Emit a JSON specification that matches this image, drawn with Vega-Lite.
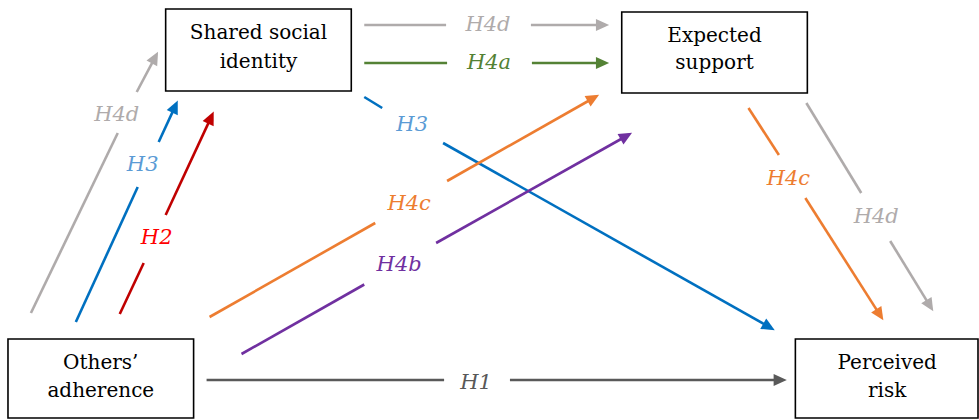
{
  "$schema": "https://vega.github.io/schema/vega-lite/v6.json",
  "autosize": {"type": "fit", "contains": "padding"},
  "width": 979,
  "height": 420,
  "padding": 0,
  "background": "white",
  "config": {"view": {"stroke": null}},
  "datasets": {
    "boxes": [
      {"name": "Shared social identity", "x": 166, "x2": 352, "y": 9, "y2": 91},
      {"name": "Expected support", "x": 623, "x2": 809, "y": 12, "y2": 93},
      {"name": "Others’ adherence", "x": 8, "x2": 194, "y": 339, "y2": 418},
      {"name": "Perceived risk", "x": 797, "x2": 980, "y": 339, "y2": 418}
    ],
    "boxText": [
      {"text": "Shared social", "x": 259, "y": 33},
      {"text": "identity", "x": 259, "y": 62},
      {"text": "Expected", "x": 716, "y": 36},
      {"text": "support", "x": 716, "y": 63},
      {"text": "Others’", "x": 101, "y": 363},
      {"text": "adherence", "x": 101, "y": 391},
      {"text": "Perceived", "x": 889, "y": 363},
      {"text": "risk", "x": 889, "y": 391}
    ],
    "segments": [
      {"path": "H4d top", "color": "#AFABAB", "x": 365, "y": 25, "x2": 447, "y2": 25, "head": false},
      {"path": "H4d top", "color": "#AFABAB", "x": 532, "y": 25, "x2": 606, "y2": 25, "head": true},
      {"path": "H4a", "color": "#548235", "x": 365, "y": 63, "x2": 448, "y2": 63, "head": false},
      {"path": "H4a", "color": "#548235", "x": 533, "y": 63, "x2": 606, "y2": 63, "head": true},
      {"path": "H4d left", "color": "#AFABAB", "x": 31, "y": 313, "x2": 118, "y2": 133, "head": false},
      {"path": "H4d left", "color": "#AFABAB", "x": 137, "y": 92, "x2": 156.3, "y2": 55.6, "head": true},
      {"path": "H3 left", "color": "#0070C0", "x": 76, "y": 322, "x2": 138, "y2": 187, "head": false},
      {"path": "H3 left", "color": "#0070C0", "x": 159, "y": 142, "x2": 176.3, "y2": 104.6, "head": true},
      {"path": "H2", "color": "#C00000", "x": 120, "y": 314, "x2": 144, "y2": 263, "head": false},
      {"path": "H2", "color": "#C00000", "x": 166, "y": 215, "x2": 212.3, "y2": 115.6, "head": true},
      {"path": "H3 diag", "color": "#0070C0", "x": 365, "y": 97, "x2": 383, "y2": 108, "head": false},
      {"path": "H3 diag", "color": "#0070C0", "x": 444, "y": 143, "x2": 772.5, "y2": 328, "head": true},
      {"path": "H4c left", "color": "#ED7D31", "x": 210, "y": 317, "x2": 376, "y2": 223, "head": false},
      {"path": "H4c left", "color": "#ED7D31", "x": 448, "y": 181, "x2": 596.5, "y2": 97, "head": true},
      {"path": "H4b", "color": "#7030A0", "x": 242, "y": 354, "x2": 365, "y2": 284.5, "head": false},
      {"path": "H4b", "color": "#7030A0", "x": 437, "y": 243, "x2": 629.5, "y2": 135, "head": true},
      {"path": "H1", "color": "#595959", "x": 207, "y": 380, "x2": 445, "y2": 380, "head": false},
      {"path": "H1", "color": "#595959", "x": 511, "y": 380, "x2": 784, "y2": 380, "head": true},
      {"path": "H4c right", "color": "#ED7D31", "x": 750, "y": 108, "x2": 780.5, "y2": 155, "head": false},
      {"path": "H4c right", "color": "#ED7D31", "x": 807, "y": 198, "x2": 882.8, "y2": 316.6, "head": true},
      {"path": "H4d right", "color": "#AFABAB", "x": 808, "y": 103, "x2": 863, "y2": 193, "head": false},
      {"path": "H4d right", "color": "#AFABAB", "x": 892, "y": 241, "x2": 932.9, "y2": 307.6, "head": true}
    ],
    "labels": [
      {"text": "H4d", "color": "#AFABAB", "x": 489, "y": 25},
      {"text": "H4a", "color": "#548235", "x": 490, "y": 63},
      {"text": "H4d", "color": "#AFABAB", "x": 117, "y": 115},
      {"text": "H3", "color": "#5B9BD5", "x": 143, "y": 165},
      {"text": "H2", "color": "#FF0000", "x": 157, "y": 238},
      {"text": "H3", "color": "#5B9BD5", "x": 413, "y": 125},
      {"text": "H4c", "color": "#ED7D31", "x": 410, "y": 204},
      {"text": "H4b", "color": "#7030A0", "x": 400, "y": 265},
      {"text": "H1", "color": "#595959", "x": 477, "y": 383},
      {"text": "H4c", "color": "#ED7D31", "x": 790, "y": 179},
      {"text": "H4d", "color": "#AFABAB", "x": 878, "y": 217}
    ]
  },
  "layer": [
    {
      "data": {"name": "boxes"},
      "mark": {"type": "rect", "fill": "white", "stroke": "black", "strokeWidth": 1.6},
      "encoding": {
        "x": {"field": "x", "type": "quantitative", "scale": {"domain": [0, 979], "nice": false, "zero": false}, "axis": null},
        "x2": {"field": "x2"},
        "y": {"field": "y", "type": "quantitative", "scale": {"domain": [0, 420], "nice": false, "zero": false, "reverse": true}, "axis": null},
        "y2": {"field": "y2"}
      }
    },
    {
      "data": {"name": "segments"},
      "mark": {"type": "rule", "strokeWidth": 2.6, "strokeCap": "butt"},
      "encoding": {
        "x": {"field": "x", "type": "quantitative"},
        "x2": {"field": "x2"},
        "y": {"field": "y", "type": "quantitative"},
        "y2": {"field": "y2"},
        "color": {"field": "color", "type": "nominal", "scale": null}
      }
    },
    {
      "data": {"name": "segments"},
      "transform": [
        {"filter": "datum.head"},
        {"calculate": "atan2(datum.x2 - datum.x, -(datum.y2 - datum.y)) * 180 / PI", "as": "angle"}
      ],
      "mark": {"type": "point", "filled": true, "opacity": 1, "size": 484, "strokeWidth": 0, "shape": "M0,-0.4L0.55,0.8L-0.55,0.8Z"},
      "encoding": {
        "x": {"field": "x2", "type": "quantitative"},
        "y": {"field": "y2", "type": "quantitative"},
        "angle": {"field": "angle", "type": "quantitative", "scale": null},
        "color": {"field": "color", "type": "nominal", "scale": null}
      }
    },
    {
      "data": {"name": "labels"},
      "mark": {"type": "text", "font": "DejaVu Serif", "fontStyle": "italic", "fontSize": 21, "align": "center", "baseline": "middle"},
      "encoding": {
        "x": {"field": "x", "type": "quantitative"},
        "y": {"field": "y", "type": "quantitative"},
        "text": {"field": "text"},
        "color": {"field": "color", "type": "nominal", "scale": null}
      }
    },
    {
      "data": {"name": "boxText"},
      "mark": {"type": "text", "font": "DejaVu Serif", "fontSize": 20, "align": "center", "baseline": "middle", "color": "black"},
      "encoding": {
        "x": {"field": "x", "type": "quantitative"},
        "y": {"field": "y", "type": "quantitative"},
        "text": {"field": "text"}
      }
    }
  ]
}
